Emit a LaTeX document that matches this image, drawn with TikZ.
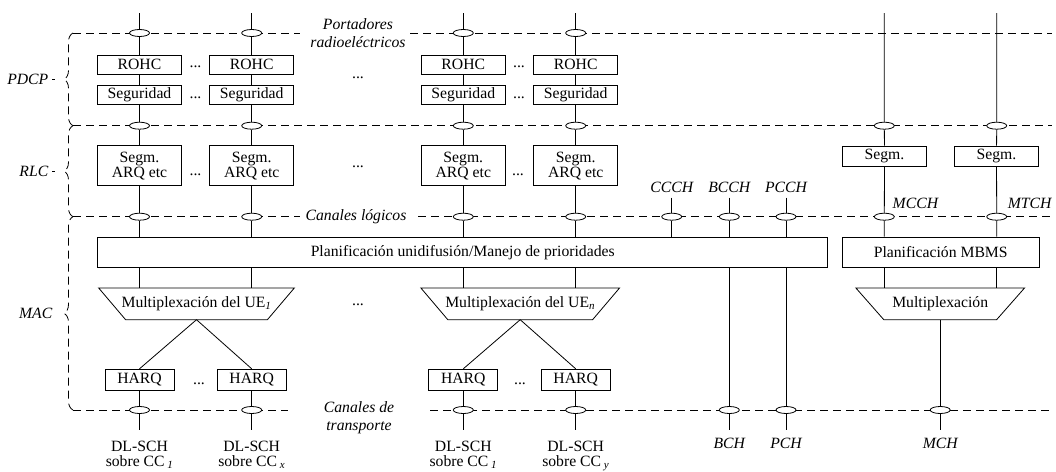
\documentclass[tikz,border=0pt]{standalone}
\usepackage{fontspec}
\setmainfont{Liberation Serif}
\usetikzlibrary{shapes, positioning, decorations.pathreplacing, calc}

\begin{document}
\begin{tikzpicture}[x=1pt, y=-1pt,
			font=\fontsize{15.7}{15}\selectfont,
			line width=0.8pt,
			blk/.style={draw, rectangle, inner sep=0pt, minimum width=84pt, minimum height=19pt},
			harq/.style={draw, rectangle, inner sep=0pt, minimum width=69pt, minimum height=21pt},
			sched/.style={draw, rectangle, inner sep=0pt, minimum height=30.5pt},
			mux/.style={inner sep=0pt, minimum height=31pt},
			port/.style={ellipse, draw, fill=white, inner sep=0pt, minimum width=20pt, minimum height=7pt},
			layer/.style={dash pattern=on 8pt off 5pt},
			chlabel/.style={font=\fontsize{15.7}{17}\selectfont\itshape},
			dots/.style={inner sep=0pt}
			]
			\useasboundingbox (0,0) rectangle (1056,471);
			% capas
			\draw[layer] (73,33) -- (300,33) (410,33) -- (1052,33);
			\draw[layer] (73,125.7) -- (1052,125.7);
			\draw[layer] (73,216.7) -- (300,216.7) (418,216.7) -- (1052,216.7);
			\draw[layer] (73,410) -- (288,410) (430,410) -- (1052,410);
			\draw[layer, decorate, decoration={brace, amplitude=9pt}] (73,125.7) -- (73,33);
			\draw[layer, decorate, decoration={brace, amplitude=9pt}] (73,216.7) -- (73,125.7);
			\draw[layer, decorate, decoration={brace, amplitude=9pt}] (73,410) -- (73,216.7);
			\coordinate (pdcptip) at (64,79.4);
			\coordinate (rlctip) at (64,171.2);
			\node[chlabel, anchor=east] (pdcp) at (52,79.4) {PDCP};
			\node[chlabel, anchor=east] (rlc) at (52,171.2) {RLC};
			\node[chlabel, anchor=east] (mac) at (56,313.3) {MAC};
			\draw[dash pattern=on 3pt off 20pt] (pdcp.east) -- (pdcptip);
			\draw[dash pattern=on 3pt off 20pt] (rlc.east) -- (rlctip);
			
			\node[chlabel, align=center] (portl) at (358,33) {Portadores\\[1pt]radioeléctricos};
			\node[chlabel] (logl) at (356,217) {Canales lógicos};
			\node[chlabel, align=center] (transl) at (359,418) {Canales de\\[1pt]transporte};
			
			% planificacion
			\node[sched, minimum width=730pt] (sched) at (462.7,252.2) {Planificación unidifusión/Manejo de prioridades};
			\node[sched, minimum width=196.7pt] (schedm) at (940.7,252.2) {Planificación MBMS};
			
			\node[mux, minimum width=195pt] (mux1) at (196.5,303.8) {Multiplexación del UE\textsubscript{\textit{1}}};
			\node[mux, minimum width=198pt] (muxn) at (520.2,303.8) {Multiplexación del UE\textsubscript{\textit{n}}};
			\node[mux, minimum width=168pt] (muxm) at (940.2,303.8) {Multiplexación};
			\draw (mux1.north west) -- (mux1.north east) -- ([xshift=-27pt]mux1.south east) -- ([xshift=27pt]mux1.south west) -- cycle;
			\draw (muxn.north west) -- (muxn.north east) -- ([xshift=-27pt]muxn.south east) -- ([xshift=27pt]muxn.south west) -- cycle;
			\draw (muxm.north west) -- (muxm.north east) -- ([xshift=-28pt]muxm.south east) -- ([xshift=28pt]muxm.south west) -- cycle;
			
			% columna a
			\coordinate (a0) at (139.5,13);
			\node[port] (a1) at (139.5,33) {};
			\node[blk] (rohca) at (139.5,64.5) {ROHC};
			\node[blk] (secura) at (139.5,94.5) {Seguridad};
			\node[port] (a2) at (139.5,125.7) {};
			\node[blk, minimum height=40pt, align=center] (arqa) at (139.5,165.7) {Segm.\\ARQ etc};
			\node[port] (a3) at (139.5,216.7) {};
			\node[harq] (harqa) at (139.5,379.7) {HARQ};
			\node[port] (a4) at (139.5,410) {};
			\coordinate (a5) at (139.5,430);
			\node[align=center, below=7pt of a5] (dla) {DL-SCH\\sobre CC\,\textsubscript{\textit{1}}};
			% columna b
			\coordinate (b0) at (251.7,13);
			\node[port] (b1) at (251.7,33) {};
			\node[blk] (rohcb) at (251.7,64.5) {ROHC};
			\node[blk] (securb) at (251.7,94.5) {Seguridad};
			\node[port] (b2) at (251.7,125.7) {};
			\node[blk, minimum height=40pt, align=center] (arqb) at (251.7,165.7) {Segm.\\ARQ etc};
			\node[port] (b3) at (251.7,216.7) {};
			\node[harq] (harqb) at (251.7,379.7) {HARQ};
			\node[port] (b4) at (251.7,410) {};
			\coordinate (b5) at (251.7,430);
			\node[align=center, below=7pt of b5] (dlb) {DL-SCH\\sobre CC\,\textsubscript{\textit{x}}};
			% columna c
			\coordinate (c0) at (463.3,13);
			\node[port] (c1) at (463.3,33) {};
			\node[blk] (rohcc) at (463.3,64.5) {ROHC};
			\node[blk] (securc) at (463.3,94.5) {Seguridad};
			\node[port] (c2) at (463.3,125.7) {};
			\node[blk, minimum height=40pt, align=center] (arqc) at (463.3,165.7) {Segm.\\ARQ etc};
			\node[port] (c3) at (463.3,216.7) {};
			\node[harq] (harqc) at (463.3,379.7) {HARQ};
			\node[port] (c4) at (463.3,410) {};
			\coordinate (c5) at (463.3,430);
			\node[align=center, below=7pt of c5] (dlc) {DL-SCH\\sobre CC\,\textsubscript{\textit{1}}};
			% columna d
			\coordinate (d0) at (575.7,13);
			\node[port] (d1) at (575.7,33) {};
			\node[blk] (rohcd) at (575.7,64.5) {ROHC};
			\node[blk] (secured) at (575.7,94.5) {Seguridad};
			\node[port] (d2) at (575.7,125.7) {};
			\node[blk, minimum height=40pt, align=center] (arqd) at (575.7,165.7) {Segm.\\ARQ etc};
			\node[port] (d3) at (575.7,216.7) {};
			\node[harq] (harqd) at (575.7,379.7) {HARQ};
			\node[port] (d4) at (575.7,410) {};
			\coordinate (d5) at (575.7,430);
			\node[align=center, below=7pt of d5] (dld) {DL-SCH\\sobre CC\,\textsubscript{\textit{y}}};
			
			\draw (a0) -- (a1) -- (rohca) -- (secura) -- (a2) -- (arqa) -- (a3) -- (a3 |- sched.north);
			\draw (b0) -- (b1) -- (rohcb) -- (securb) -- (b2) -- (arqb) -- (b3) -- (b3 |- sched.north);
			\draw (c0) -- (c1) -- (rohcc) -- (securc) -- (c2) -- (arqc) -- (c3) -- (c3 |- sched.north);
			\draw (d0) -- (d1) -- (rohcd) -- (secured) -- (d2) -- (arqd) -- (d3) -- (d3 |- sched.north);
			\draw (a3 |- sched.south) -- (a3 |- mux1.north);
			\draw (b3 |- sched.south) -- (b3 |- mux1.north);
			\draw (c3 |- sched.south) -- (c3 |- muxn.north);
			\draw (d3 |- sched.south) -- (d3 |- muxn.north);
			\draw (mux1.south) -- (harqa.north);
			\draw (mux1.south) -- (harqb.north);
			\draw (muxn.south) -- (harqc.north);
			\draw (muxn.south) -- (harqd.north);
			\draw (harqa) -- (a4) -- (a5);
			\draw (harqb) -- (b4) -- (b5);
			\draw (harqc) -- (c4) -- (c5);
			\draw (harqd) -- (d4) -- (d5);
			
			% puntos
			\node[dots] (dr1) at (195.5,67) {...};
			\node[dots] (ds1) at (195.5,97.5) {...};
			\node[dots] (dr2) at (519,67) {...};
			\node[dots] (ds2) at (519,97.5) {...};
			\node[dots] (dp) at (358,78) {...};
			\node[dots] (da1) at (195.5,175) {...};
			\node[dots] (da2) at (518,175) {...};
			\node[dots] (dr) at (358,167) {...};
			\node[dots] (dm) at (358,305) {...};
			\node[dots] (dh1) at (199,383.3) {...};
			\node[dots] (dh2) at (520,383.3) {...};
			
			% CCCH, BCCH, PCCH
			\coordinate (k0) at (671.7,197.7);
			\node[port] (k3) at (671.7,216.7) {};
			\node[chlabel, above=1pt of k0] (ccch) {CCCH};
			\coordinate (h0) at (729.3,197.7);
			\node[port] (h3) at (729.3,216.7) {};
			\node[port] (h4) at (729.3,410) {};
			\coordinate (h5) at (729.3,430);
			\node[chlabel, above=1pt of h0] (bcch) {BCCH};
			\node[chlabel, below=4pt of h5] (bch) {BCH};
			\coordinate (p0) at (786,197.7);
			\node[port] (p3) at (786,216.7) {};
			\node[port] (p4) at (786,410) {};
			\coordinate (p5) at (786,430);
			\node[chlabel, above=1pt of p0] (pcch) {PCCH};
			\node[chlabel, below=4pt of p5] (pch) {PCH};
			\draw (k0) -- (k3) -- (k3 |- sched.north);
			\draw (h0) -- (h3) -- (h3 |- sched.north);
			\draw (p0) -- (p3) -- (p3 |- sched.north);
			\draw (h3 |- sched.south) -- (h4) -- (h5);
			\draw (p3 |- sched.south) -- (p4) -- (p5);
			
			% MCCH, MTCH, MCH
			\coordinate (e0) at (884.3,13);
			\node[port] (e2) at (884.3,125.7) {};
			\node[blk, minimum height=20pt] (segme) at (884.5,156) {Segm.};
			\node[port] (e3) at (884.3,216.7) {};
			\node[chlabel, anchor=west] (mcch) at (889,203) {MCCH};
			\coordinate (f0) at (996.7,13);
			\node[port] (f2) at (996.7,125.7) {};
			\node[blk, minimum height=20pt] (segmf) at (996.5,156) {Segm.};
			\node[port] (f3) at (996.7,216.7) {};
			\node[chlabel, anchor=west] (mtch) at (1004,203) {MTCH};
			\draw (e0) -- (e2) -- (segme) -- (e3) -- (e3 |- schedm.north);
			\draw (f0) -- (f2) -- (segmf) -- (f3) -- (f3 |- schedm.north);
			\draw (e3 |- schedm.south) -- (e3 |- muxm.north);
			\draw (f3 |- schedm.south) -- (f3 |- muxm.north);
			\node[port] (g4) at (940.2,410) {};
			\coordinate (g5) at (940.2,430);
			\node[chlabel, below=4pt of g5] (mch) {MCH};
			\draw (muxm.south) -- (g4) -- (g5);
\end{tikzpicture}
\end{document}
